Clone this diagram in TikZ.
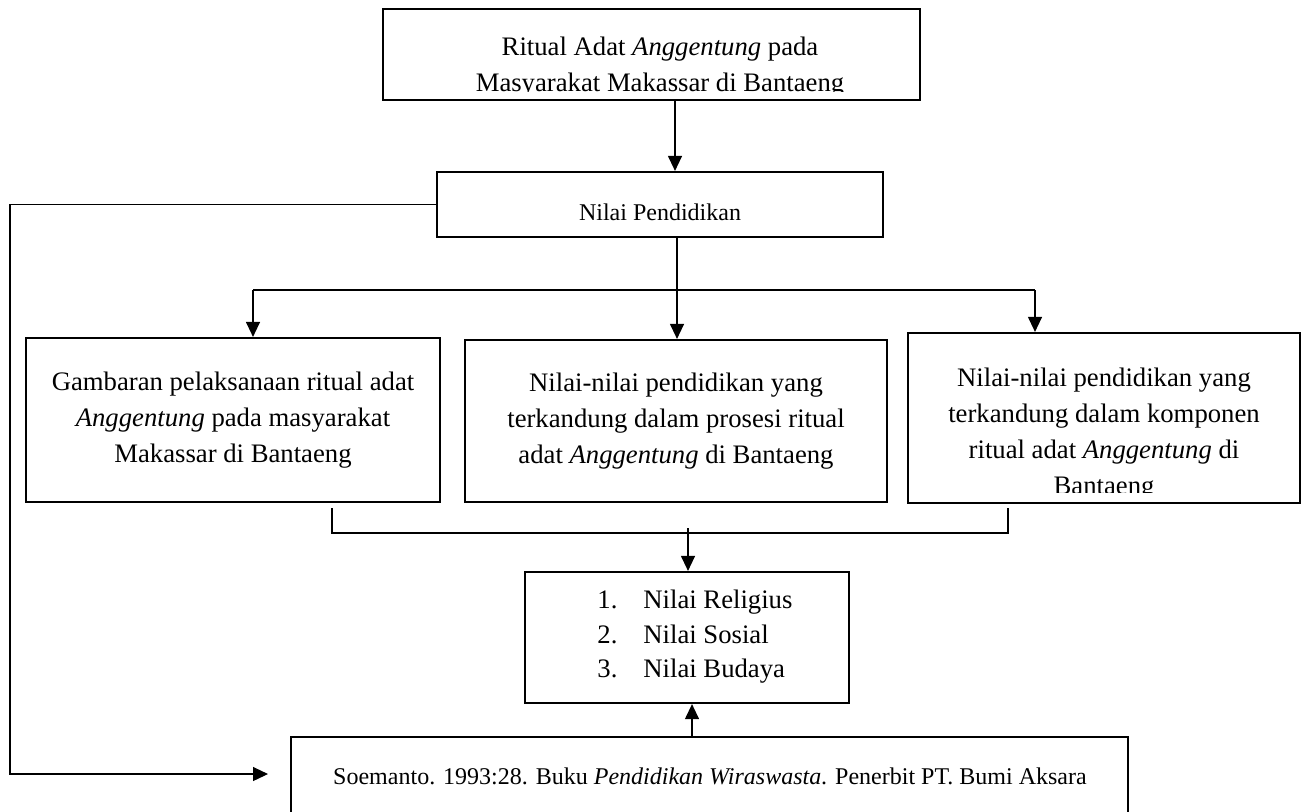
\documentclass[tikz,border=0pt]{standalone}
\usepackage{fontspec}
\setmainfont{Liberation Serif}
\usetikzlibrary{arrows.meta,fit}
\begin{document}
\begin{tikzpicture}[x=0.5pt,y=-0.5pt,
  box/.style={draw,line width=1.1pt,inner sep=0pt},
  conn/.style={line width=0.6pt},
  arr/.style={conn,-{Triangle[length=7.5pt,width=7pt]}},
  big/.style={font=\fontsize{13.35pt}{18pt}\selectfont,align=center,inner sep=0pt},
  small/.style={font=\fontsize{12pt}{14pt}\selectfont,inner sep=0pt}]
\useasboundingbox (0,0) rectangle (1309,811);

% boxes
\node[box,fit={(383,9) (920,100)}] (top) {};
\node[box,fit={(437,172) (883,237)}] (np) {};
\node[box,fit={(26,338) (440,502)}] (lbox) {};
\node[box,fit={(465,340) (887,502)}] (mbox) {};
\node[box,fit={(908,333) (1300,503)}] (rbox) {};
\node[box,fit={(525,572) (849,703)}] (list) {};
\node[box,fit={(291,737) (1128,850)}] (bot) {};

% texts
\begin{scope}
\clip (383,9) rectangle (920,91);
\node[big] (toptext) at (660,67) {Ritual Adat \textit{Anggentung} pada\\Masyarakat Makassar di Bantaeng};
\end{scope}
\node[small] (nptext) at (660,212) {Nilai Pendidikan};
\node[big] (ltext) at (233,420) {Gambaran pelaksanaan ritual adat\\\textit{Anggentung} pada masyarakat\\Makassar di Bantaeng};
\node[big] (mtext) at (676,421) {Nilai-nilai pendidikan yang\\terkandung dalam prosesi ritual\\adat \textit{Anggentung} di Bantaeng};
\begin{scope}
\clip (908,333) rectangle (1300,492);
\node[big] (rtext) at (1104,434) {Nilai-nilai pendidikan yang\\terkandung dalam komponen\\ritual adat \textit{Anggentung} di\\Bantaeng};
\end{scope}
\node[big,align=left,anchor=west,font=\fontsize{13.35pt}{17.25pt}\selectfont] (listtext) at (597,637) {\makebox[23pt][l]{1.}Nilai Religius\\\makebox[23pt][l]{2.}Nilai Sosial\\\makebox[23pt][l]{3.}Nilai Budaya};
\node[small] (btext) at (710,776) {Soemanto. 1993:28. Buku \textit{Pendidikan Wiraswasta}. Penerbit PT. Bumi Aksara};

% connectors
\coordinate (cA) at (675,0);
\draw[arr] (top.south -| cA) -- (np.north -| cA);
\coordinate (cB) at (677,0);
\draw[arr] (np.south -| cB) -- (mbox.north -| cB);
\coordinate (jL) at (253,290);
\coordinate (jR) at (1035,290);
\draw[conn] (jL) -- (jR);
\draw[arr] (jL) -- (lbox.north -| jL);
\draw[arr] (jR) -- (rbox.north -| jR);
\coordinate (cornerB) at (10,774);
\coordinate (tipL) at (268,774);
\draw[arr] (np.west) -| (cornerB) -- (tipL);
\coordinate (bl) at (332,508);
\coordinate (bll) at (332,533);
\coordinate (brr) at (1008,533);
\coordinate (br) at (1008,508);
\draw[conn] (bl) -- (bll) -- (brr) -- (br);
\coordinate (bm) at (688,528);
\draw[arr] (bm) -- (list.north -| bm);
\coordinate (cD) at (692,0);
\draw[arr] (bot.north -| cD) -- (list.south -| cD);
\end{tikzpicture}
\end{document}
